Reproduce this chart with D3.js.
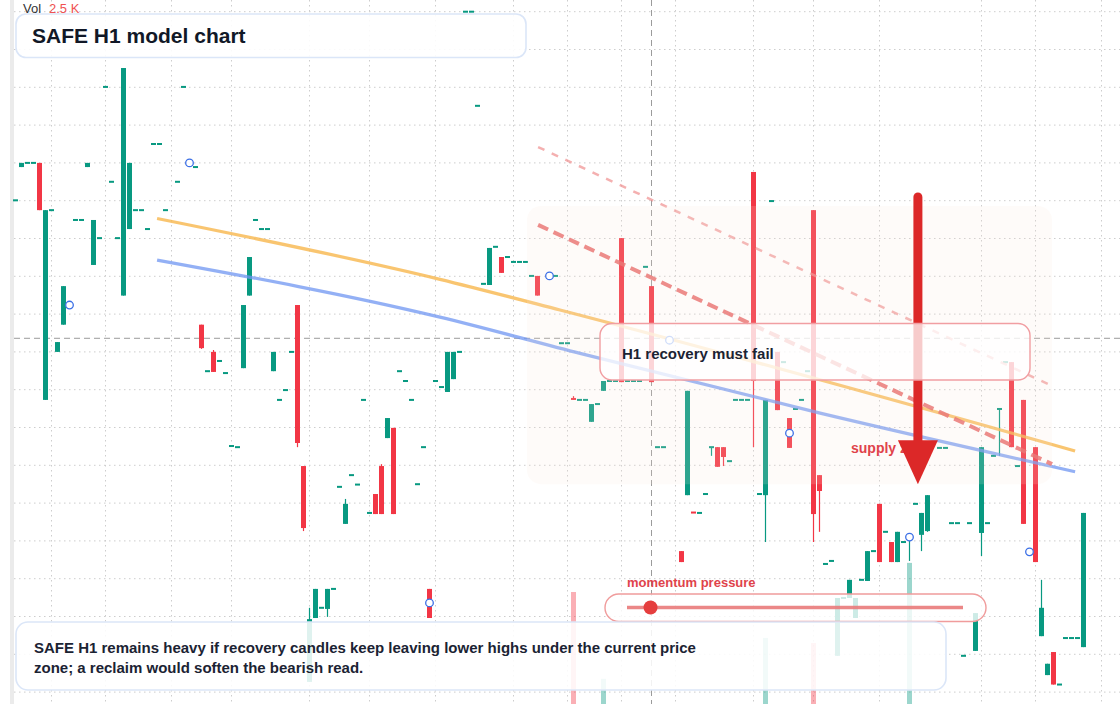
<!DOCTYPE html>
<html>
<head>
<meta charset="utf-8">
<script src="https://cdn.jsdelivr.net/npm/d3@7"></script>
<style>
  html, body { margin: 0; padding: 0; background: #fff; }
  svg { display: block; font-family: "Liberation Sans", Arial, Helvetica, sans-serif; }
</style>
</head>
<body>
<div id="chart"></div>
<script>
// candles: index on the hourly axis, open / close (flat candles have open == close)
var candleIdx = [
  0, 1, 2, 3, 4, 5, 6, 7, 8, 10, 11, 12, 13, 14, 15, 16, 17, 18, 19, 20,
  21, 22, 23, 24, 25, 27, 28, 30, 31, 32, 33, 34, 35, 36, 37, 38, 39, 40, 41, 42,
  43, 44, 45, 46, 47, 48, 49, 50, 51, 52, 53, 54, 55, 56, 57, 58, 59, 60, 61, 62,
  63, 64, 65, 66, 67, 68, 69, 70, 71, 72, 73, 74, 75, 76, 77, 78, 79, 80, 81, 82,
  83, 84, 85, 86, 87, 90, 91, 92, 93, 94, 95, 96, 97, 98, 99, 100, 101, 102, 103, 104,
  105, 106, 107, 108, 111, 112, 113, 114, 115, 116, 117, 118, 119, 120, 121, 122, 123, 124, 125, 126,
  127, 128, 129, 130, 131, 132, 133, 134, 135, 136, 137, 138, 139, 140, 141, 142, 143, 144, 145, 146,
  147, 148, 149, 150, 151, 152, 154, 155, 156, 157, 158, 159, 160, 161, 162, 163, 164, 165, 166, 167,
  168, 170, 171, 172, 173, 174, 175, 176, 177, 178
];
var candleOpen = [
  0.4701, 0.4789, 0.4800, 0.4800, 0.4800, 0.4173, 0.4675, 0.4300, 0.4372, 0.4649, 0.4649, 0.4789, 0.4530, 0.4601, 0.5001, 0.4750, 0.4601, 0.4449, 0.4625, 0.4675,
  0.4675, 0.4625, 0.4850, 0.4850, 0.4675, 0.4750, 0.5001, 0.4789, 0.4372, 0.4249, 0.4300, 0.4276, 0.4244, 0.4051, 0.4048, 0.4257, 0.4449, 0.4649, 0.4625, 0.4625,
  0.4249, 0.4173, 0.4199, 0.4300, 0.4424, 0.3998, 0.3427, 0.3596, 0.3623, 0.3620, 0.3673, 0.3943, 0.3845, 0.3974, 0.3949, 0.4173, 0.3874, 0.3924, 0.3998, 0.4072,
  0.4099, 0.4249, 0.4223, 0.4173, 0.3950, 0.4048, 0.3673, 0.4223, 0.4207, 0.4194, 0.4228, 0.4300, 0.5200, 0.5200, 0.4951, 0.4480, 0.4477, 0.4578, 0.4551, 0.4551,
  0.4538, 0.4538, 0.4538, 0.4501, 0.4501, 0.4501, 0.4323, 0.4323, 0.4178, 0.4173, 0.4173, 0.4115, 0.4162, 0.4197, 0.4223, 0.4223, 0.4601, 0.4223, 0.4223, 0.4223,
  0.4525, 0.4474, 0.4048, 0.4048, 0.3773, 0.3921, 0.3876, 0.3874, 0.3924, 0.4048, 0.4048, 0.4048, 0.4011, 0.4173, 0.4173, 0.4173, 0.4776, 0.3924, 0.3921, 0.4699,
  0.4300, 0.4273, 0.4125, 0.4149, 0.4173, 0.4249, 0.4675, 0.3974, 0.3739, 0.3747, 0.3496, 0.3649, 0.3649, 0.3596, 0.3697, 0.3694, 0.3773, 0.3898, 0.3824, 0.3797,
  0.3744, 0.3797, 0.3810, 0.3898, 0.3816, 0.3826, 0.4046, 0.4046, 0.3847, 0.3847, 0.3496, 0.3847, 0.3509, 0.3821, 0.3847, 0.4025, 0.4149, 0.4273, 0.4273, 0.3998,
  0.4173, 0.4048, 0.3548, 0.3445, 0.3506, 0.3420, 0.3543, 0.3543, 0.3543, 0.3519
];
var candleClose = [
  0.4701, 0.4800, 0.4800, 0.4800, 0.4675, 0.4675, 0.4675, 0.4326, 0.4474, 0.4649, 0.4649, 0.4800, 0.4649, 0.4601, 0.5001, 0.4750, 0.4601, 0.5051, 0.4800, 0.4675,
  0.4675, 0.4625, 0.4850, 0.4850, 0.4675, 0.4750, 0.5001, 0.4789, 0.4310, 0.4249, 0.4247, 0.4276, 0.4244, 0.4051, 0.4048, 0.4424, 0.4551, 0.4649, 0.4625, 0.4625,
  0.4300, 0.4173, 0.4199, 0.4300, 0.4059, 0.3834, 0.3593, 0.3673, 0.3623, 0.3673, 0.3673, 0.3943, 0.3898, 0.3974, 0.3949, 0.4173, 0.3874, 0.3871, 0.3871, 0.4125,
  0.3871, 0.4249, 0.4223, 0.4173, 0.3950, 0.4048, 0.3596, 0.4223, 0.4207, 0.4300, 0.4300, 0.4300, 0.5200, 0.5200, 0.4951, 0.4480, 0.4575, 0.4578, 0.4509, 0.4551,
  0.4538, 0.4538, 0.4538, 0.4501, 0.4449, 0.4501, 0.4323, 0.4323, 0.4173, 0.4173, 0.4173, 0.4162, 0.4162, 0.4223, 0.4223, 0.4223, 0.4220, 0.4223, 0.4223, 0.4223,
  0.4525, 0.4220, 0.4048, 0.4048, 0.3744, 0.4197, 0.3874, 0.3874, 0.3924, 0.4048, 0.3996, 0.4022, 0.4011, 0.4173, 0.4173, 0.4173, 0.4223, 0.3924, 0.4173, 0.4699,
  0.4146, 0.4273, 0.4046, 0.4149, 0.4173, 0.4249, 0.3871, 0.3932, 0.3739, 0.3747, 0.3649, 0.3649, 0.3697, 0.3649, 0.3697, 0.3773, 0.3773, 0.3744, 0.3824, 0.3744,
  0.3824, 0.3797, 0.3810, 0.3898, 0.3874, 0.3921, 0.4046, 0.4046, 0.3847, 0.3847, 0.3496, 0.3847, 0.3609, 0.4048, 0.3847, 0.4025, 0.4149, 0.4273, 0.4048, 0.3998,
  0.3845, 0.3744, 0.3623, 0.3475, 0.3420, 0.3420, 0.3543, 0.3543, 0.3543, 0.3874
];
// candles whose wick reaches past the body
var wickIdx  = [31, 33, 47, 48, 49, 52, 55, 61, 93, 116, 118, 123, 125, 133, 134, 149, 151, 152, 161, 164, 171];
var wickHigh = [0.4372, 0.4305, 0.4424, 0.3998, 0.3623, 0.3673, 0.3911, 0.4003, 0.4183, 0.4048, 0.4048, 0.4776, 0.4173, 0.4675, 0.3974, 0.3810, 0.3874, 0.3921, 0.4048, 0.4149, 0.3697];
var wickLow  = [0.4308, 0.4247, 0.4048, 0.3826, 0.3427, 0.3599, 0.3845, 0.3871, 0.4173, 0.4025, 0.3998, 0.4048, 0.3797, 0.3797, 0.3824, 0.3747, 0.3773, 0.3824, 0.3760, 0.4025, 0.3548];

var volIdx   = [93, 98, 125, 133, 149];
var volValue = [2000, 450, 1180, 1090, 2520];
var volHover = 2500;

var markerIdx   = [9, 29, 69, 89, 109, 129, 149, 169];
var markerPrice = [0.4424, 0.4800, 0.3636, 0.4501, 0.4331, 0.4085, 0.3810, 0.3771];

var gridIdx = [6, 15, 26, 36, 49, 59, 70, 83, 92, 101, 110, 123, 133, 144, 161, 170, 181];

// trend / channel lines as [index, price]
var orangeLine = [[23.6, 0.4653], [70.75, 0.4492], [90.75, 0.4411], [176.6, 0.4038]];
var blueLine   = [[23.6, 0.4543], [70.75, 0.4392], [94.1, 0.4296], [134.1, 0.4138], [176.6, 0.3983]];
var channelTop = [[87.1, 0.4842], [172.75, 0.4210]];
var channelMid = [[87.1, 0.4636], [172.75, 0.4003]];
var supplyZone = {from: 85.25, to: 172.75, top: 0.4686, bottom: 0.3950};
var arrowAt = 150.4, arrowFrom = 0.4710, arrowTo = 0.3950;
var crossIdx = 106, crossPrice = 0.4336;
var momentum = 0.07;

var titleText = "SAFE H1 model chart";
var noteLines = ["SAFE H1 remains heavy if recovery candles keep leaving lower highs under the current price",
                 "zone; a reclaim would soften the bearish read."];
var calloutText = "H1 recovery must fail";

function chart(){
  var W = 1120, H = 704,
      up = '#089981', down = '#f23645';

  var x = d3.scaleLinear().domain([0, 178]).range([15.5, 1083.5]);
  var y = d3.scaleLinear().domain([0.34, 0.52]).range([692.1, 11.7]);
  var vy = d3.scaleLinear().domain([0, 2500]).range([H, 564]);

  var candles = candleIdx.map(function(d, k){
    var o = candleOpen[k], c = candleClose[k],
        w = wickIdx.indexOf(d);
    return {i: d, o: o, c: c,
      h: w < 0 ? Math.max(o, c) : wickHigh[w],
      l: w < 0 ? Math.min(o, c) : wickLow[w]};
  });

  var svg = d3.select('#chart').append('svg')
      .attr('width', W)
      .attr('height', H);

  svg.append('rect').attr('width', W).attr('height', H).attr('fill', '#fff');
  svg.append('rect')
      .attr('x', 10).attr('y', 0).attr('width', 4).attr('height', H)
      .attr('fill', '#ebebeb');

  // dotted grid
  var grid = svg.append('g')
      .attr('stroke', '#cdcdcd')
      .attr('stroke-dasharray', '1.5,3.5');
  grid.selectAll('.gy').data(y.ticks(18)).enter().append('line')
      .attr('x1', 14).attr('x2', W)
      .attr('y1', function(d){ return y(d); })
      .attr('y2', function(d){ return y(d); });
  grid.selectAll('.gx').data(gridIdx).enter().append('line')
      .attr('x1', function(d){ return x(d); })
      .attr('x2', function(d){ return x(d); })
      .attr('y1', 0).attr('y2', H);

  // crosshair
  var cross = svg.append('g')
      .attr('stroke', '#9b9b9b')
      .attr('stroke-dasharray', '6,4');
  cross.append('line')
      .attr('x1', 14).attr('x2', W)
      .attr('y1', y(crossPrice)).attr('y2', y(crossPrice));
  cross.append('line')
      .attr('x1', x(crossIdx)).attr('x2', x(crossIdx))
      .attr('y1', 0).attr('y2', H);

  // volume
  svg.selectAll('.vol').data(volIdx).enter().append('rect')
      .attr('class', 'vol')
      .attr('x', function(d){ return x(d) - 2.5; })
      .attr('width', 5)
      .attr('y', function(d, k){ return vy(volValue[k]); })
      .attr('height', function(d, k){ return H - vy(volValue[k]); })
      .attr('fill', function(d){
        var c = candles.find(function(e){ return e.i === d; });
        return c.c >= c.o ? up : down;
      })
      .attr('opacity', 0.4);

  // candles
  var g = svg.append('g');
  g.selectAll('.wick').data(candles.filter(function(d){ return d.h > d.l; })).enter().append('line')
      .attr('x1', function(d){ return x(d.i); })
      .attr('x2', function(d){ return x(d.i); })
      .attr('y1', function(d){ return y(d.h); })
      .attr('y2', function(d){ return y(d.l); })
      .attr('stroke', function(d){ return d.c >= d.o ? up : down; })
      .attr('stroke-width', 1.2);
  g.selectAll('.body').data(candles).enter().append('rect')
      .attr('x', function(d){ return x(d.i) - 2.5; })
      .attr('width', 5)
      .attr('y', function(d){
        var t = y(Math.max(d.o, d.c)), b = y(Math.min(d.o, d.c));
        return b - t < 2 ? (t + b) / 2 - 1 : t;
      })
      .attr('height', function(d){ return Math.max(2, y(Math.min(d.o, d.c)) - y(Math.max(d.o, d.c))); })
      .attr('fill', function(d){ return d.c >= d.o ? up : down; });

  // trend lines
  var line = d3.line()
      .curve(d3.curveMonotoneX)
      .x(function(d){ return x(d[0]); })
      .y(function(d){ return y(d[1]); });
  svg.append('path').datum(orangeLine)
      .attr('d', line).attr('fill', 'none')
      .attr('stroke', '#f8b64c').attr('stroke-width', 3.2).attr('opacity', 0.8);
  svg.append('path').datum(blueLine)
      .attr('d', line).attr('fill', 'none')
      .attr('stroke', '#6f96f2').attr('stroke-width', 3.2).attr('opacity', 0.75);
  svg.append('path').datum(channelTop)
      .attr('d', line).attr('fill', 'none')
      .attr('stroke', '#f08f8f').attr('stroke-width', 2.5).attr('opacity', 0.7)
      .attr('stroke-dasharray', '7,8');
  svg.append('path').datum(channelMid)
      .attr('d', line).attr('fill', 'none')
      .attr('stroke', '#e86565').attr('stroke-width', 4).attr('opacity', 0.85)
      .attr('stroke-dasharray', '11,6');

  // supply zone tint
  svg.append('rect')
      .attr('x', x(supplyZone.from))
      .attr('y', y(supplyZone.top))
      .attr('width', x(supplyZone.to) - x(supplyZone.from))
      .attr('height', y(supplyZone.bottom) - y(supplyZone.top))
      .attr('rx', 14)
      .attr('fill', '#f9e6da')
      .attr('opacity', 0.16);

  // signal markers
  svg.selectAll('.marker').data(markerIdx).enter().append('circle')
      .attr('cx', function(d){ return x(d); })
      .attr('cy', function(d, k){ return y(markerPrice[k]); })
      .attr('r', 3.8)
      .attr('fill', '#fff')
      .attr('stroke', '#3b6fe6')
      .attr('stroke-width', 1.3);

  // supply zone label + arrow
  svg.append('text')
      .attr('x', 851).attr('y', 453)
      .attr('fill', '#e0434b')
      .attr('font-size', 14).attr('font-weight', 'bold')
      .text('supply zone');
  var ax = x(arrowAt), tip = y(arrowTo);
  svg.append('line')
      .attr('x1', ax).attr('x2', ax)
      .attr('y1', y(arrowFrom)).attr('y2', tip - 40)
      .attr('stroke', '#dc2828').attr('stroke-width', 9)
      .attr('stroke-linecap', 'round');
  svg.append('path')
      .attr('d', 'M' + (ax - 20) + ',' + (tip - 44) + 'L' + (ax + 20) + ',' + (tip - 44) + 'L' + ax + ',' + tip + 'Z')
      .attr('fill', '#dc2828');

  // callout
  svg.append('rect')
      .attr('x', 600).attr('y', 323.5).attr('width', 430).attr('height', 56.5).attr('rx', 12)
      .attr('fill', '#fff').attr('fill-opacity', 0.76)
      .attr('stroke', '#f19ea2').attr('stroke-width', 1.4);
  svg.append('text')
      .attr('x', 622).attr('y', 359)
      .attr('fill', '#1b2333')
      .attr('font-size', 15).attr('font-weight', 'bold')
      .text(calloutText);

  // momentum pressure pill
  var m = d3.scaleLinear().domain([0, 1]).range([627, 963]);
  svg.append('text')
      .attr('x', 627).attr('y', 587)
      .attr('fill', '#e0434b')
      .attr('font-size', 13).attr('font-weight', 'bold')
      .text('momentum pressure');
  svg.append('rect')
      .attr('x', 605).attr('y', 594).attr('width', 381).attr('height', 27.5).attr('rx', 13.75)
      .attr('fill', '#fff').attr('fill-opacity', 0.8)
      .attr('stroke', '#f09c9c').attr('stroke-width', 1.4);
  svg.append('line')
      .attr('x1', m(0)).attr('x2', m(1))
      .attr('y1', 607.5).attr('y2', 607.5)
      .attr('stroke', '#e97b7b').attr('stroke-width', 3.5).attr('opacity', 0.9);
  svg.append('circle')
      .attr('cx', m(momentum)).attr('cy', 607.5).attr('r', 7)
      .attr('fill', '#e53e3e');

  // note box
  svg.append('rect')
      .attr('x', 16).attr('y', 622).attr('width', 930).attr('height', 68).attr('rx', 12)
      .attr('fill', '#fff').attr('fill-opacity', 0.87)
      .attr('stroke', '#dbe6f8').attr('stroke-width', 1.6);
  svg.append('text')
      .attr('fill', '#1b2333')
      .attr('font-size', 15).attr('font-weight', 'bold')
    .selectAll('tspan').data(noteLines).enter().append('tspan')
      .attr('x', 34)
      .attr('y', function(d, k){ return 653 + k * 20; })
      .text(function(d){ return d; });

  // title box
  svg.append('rect')
      .attr('x', 16).attr('y', 14).attr('width', 510).attr('height', 43.5).attr('rx', 10)
      .attr('fill', '#fff').attr('fill-opacity', 0.9)
      .attr('stroke', '#dbe6f8').attr('stroke-width', 1.6);
  svg.append('text')
      .attr('x', 32).attr('y', 43)
      .attr('fill', '#111827')
      .attr('font-size', 21).attr('font-weight', 'bold')
      .text(titleText);

  // volume readout
  var vol = svg.append('text').attr('x', 23).attr('y', 13).attr('font-size', 13);
  vol.append('tspan').attr('fill', '#333').text('Vol');
  vol.append('tspan').attr('x', 49).attr('fill', '#f05252')
      .text((volHover / 1000).toFixed(1) + ' K');
}

chart();
</script>
</body>
</html>
